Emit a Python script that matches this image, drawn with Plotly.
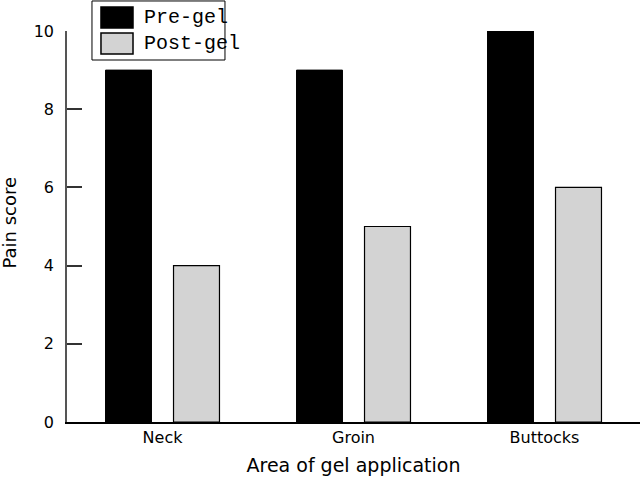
import plotly.graph_objects as go

areas = ['Neck', 'Groin', 'Buttocks']
pre_gel = [9, 9, 10]
post_gel = [4, 5, 6]
series_names = ['Pre-gel', 'Post-gel']
series_colors = ['black', '#d3d3d3']

fig = go.Figure()
fig.add_trace(go.Bar(x=areas, y=pre_gel, name=series_names[0],
                     marker=dict(color=series_colors[0], line=dict(color='black', width=1))))
fig.add_trace(go.Bar(x=areas, y=post_gel, name=series_names[1],
                     marker=dict(color=series_colors[1], line=dict(color='black', width=1.2))))

# legend drawn by hand so the swatches can be as big as in the original
fig.add_shape(type='rect', xref='paper', yref='paper', x0=0.0436, x1=0.2757, y0=0.9258, y1=1.0768,
              line=dict(color='black', width=1), fillcolor='white', layer='above')
sw_y = [(1.0077, 1.0614), (0.9412, 0.9949)]
txt_y = [1.0358, 0.9668]
for i in range(2):
    fig.add_shape(type='rect', xref='paper', yref='paper', x0=0.0593, x1=0.1152,
                  y0=sw_y[i][0], y1=sw_y[i][1], fillcolor=series_colors[i],
                  line=dict(color='black', width=1.5), layer='above')
    fig.add_annotation(text=series_names[i], xref='paper', yref='paper', x=0.1309, y=txt_y[i],
                       xanchor='left', yanchor='middle', showarrow=False,
                       font=dict(family='Liberation Mono', size=20, color='black'))

# y title placed by hand, closer to the edge than plotly would put it
fig.add_annotation(text='Pain score', xref='paper', yref='paper', x=-0.0995, y=0.51,
                   textangle=-90, showarrow=False, xanchor='center', yanchor='middle',
                   font=dict(size=18, color='black'))

fig.update_layout(
    width=640, height=480,
    margin=dict(l=67, r=0, t=31, b=58),
    plot_bgcolor='white', paper_bgcolor='white',
    barmode='group', bargap=0.288, bargroupgap=0.324,
    font=dict(family='DejaVu Sans', size=16, color='black'),
    showlegend=False,
)
fig.update_xaxes(showline=True, linecolor='black', linewidth=1.5, ticks='',
                 showgrid=False, tickfont=dict(size=16),
                 title=dict(text='Area of gel application', font=dict(size=19), standoff=13))
fig.update_yaxes(range=[0, 10], dtick=2, showline=True, linecolor='#555555', linewidth=1.5,
                 ticks='inside', ticklen=15, tickcolor='#333333', tickwidth=1.5,
                 ticklabelstandoff=8,
                 showgrid=False, zeroline=False, tickfont=dict(size=16))

fig.write_html("out.html", config={'displayModeBar': False},
               post_script="document.body.style.margin='0';")
